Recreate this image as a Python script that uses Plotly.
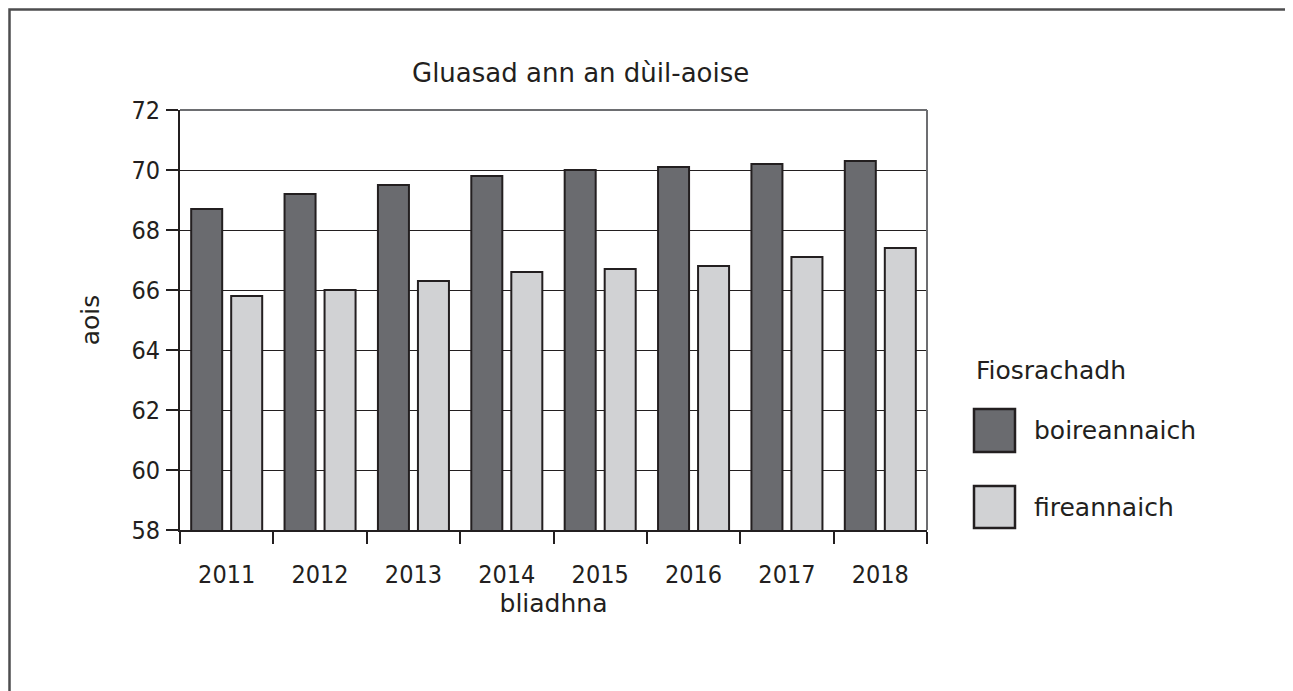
import plotly.graph_objects as go

years = ["2011", "2012", "2013", "2014", "2015", "2016", "2017", "2018"]
boireannaich = [68.7, 69.2, 69.5, 69.8, 70.0, 70.1, 70.2, 70.3]
fireannaich = [65.8, 66.0, 66.3, 66.6, 66.7, 66.8, 67.1, 67.4]
series_names = ["boireannaich", "fireannaich"]
series_colors = ["#6a6b6f", "#d1d2d4"]
y_ticks = [58, 60, 62, 64, 66, 68, 70, 72]

TXT = "#231f20"
FONT = "DejaVu Sans"
TICKFONT = "DejaVu Sans Condensed"

OFF = 8  # default page body margin
W, H = 1293 - OFF, 691 - OFF
# plot area in page pixels
L, R, T, B = 180, 927, 110, 530
pw, ph = R - L, B - T


def px(x):
    return (x - L) / pw


def py(y):
    return (B - y) / ph


fig = go.Figure()
for name, vals, col in zip(series_names, [boireannaich, fireannaich], series_colors):
    fig.add_trace(go.Bar(
        x=years, y=vals, name=name, marker_color=col, base=0,
        marker_line=dict(color=TXT, width=2), showlegend=False,
    ))

fig.update_layout(
    width=W, height=H,
    margin=dict(l=L - OFF, r=W - (R - OFF), t=T - OFF, b=H - (B - OFF), autoexpand=False),
    paper_bgcolor="white", plot_bgcolor="white",
    barmode="group", bargap=0.143, bargroupgap=0.225,
    font=dict(family=FONT, size=25, color=TXT),
)
fig.update_xaxes(
    type="category", tickson="boundaries", ticks="outside", ticklen=12,
    tickwidth=2, tickcolor=TXT, showline=True, linecolor=TXT, linewidth=2,
    showgrid=False, tickfont=dict(family=TICKFONT, size=25), ticklabelstandoff=21,
    title=dict(text="bliadhna", font=dict(size=25), standoff=3),
)
fig.update_yaxes(
    range=[58, 72], tickvals=y_ticks, ticks="outside", ticklen=12,
    tickwidth=2, tickcolor=TXT, showline=True, linecolor=TXT, linewidth=2,
    showgrid=True, gridcolor=TXT, gridwidth=1.2, zeroline=False,
    tickfont=dict(family=TICKFONT, size=25), ticklabelstandoff=1,
    title=dict(text="aois", font=dict(size=25), standoff=25),
)

shapes = [
    dict(type="line", xref="paper", yref="paper", x0=0, x1=1, y0=1, y1=1,
         line=dict(color="#6d6e71", width=2)),
    dict(type="line", xref="paper", yref="paper", x0=1, x1=1, y0=0, y1=1,
         line=dict(color="#6d6e71", width=2)),
    dict(type="rect", xref="paper", yref="paper", x0=px(9.5), x1=px(1290.5),
         y0=py(720), y1=py(9.5), line=dict(color="#4d4d4f", width=2.5)),
]
annotations = [
    dict(text="Gluasad ann an dùil-aoise", xref="paper", yref="paper",
         x=px(580), y=py(73), showarrow=False, font=dict(size=26),
         xanchor="center", yanchor="middle"),
    dict(text="Fiosrachadh", xref="paper", yref="paper", x=px(974), y=py(370),
         showarrow=False, xanchor="left", yanchor="middle", font=dict(size=25)),
]
legend_y = [(409, 452), (486, 528)]
for name, col, (y0, y1) in zip(series_names, series_colors, legend_y):
    shapes.append(dict(type="rect", xref="paper", yref="paper",
                       x0=px(974), x1=px(1015), y0=py(y1), y1=py(y0),
                       fillcolor=col, line=dict(color=TXT, width=2.5)))
    annotations.append(dict(text=name, xref="paper", yref="paper",
                            x=px(1032), y=py((y0 + y1) / 2), showarrow=False,
                            xanchor="left", yanchor="middle", font=dict(size=25)))

fig.update_layout(shapes=shapes, annotations=annotations)
fig.write_html("out.html")
